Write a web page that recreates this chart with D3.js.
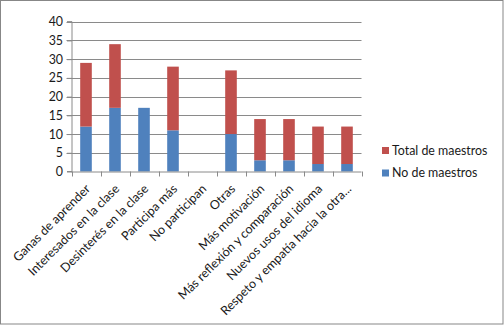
<!DOCTYPE html>
<html>
<head>
<meta charset="utf-8">
<script src="https://cdn.jsdelivr.net/npm/d3@7"></script>
<style>
  html, body { margin: 0; padding: 0; background: #fff; }
  svg { display: block; }
  text { font-family: Lato, "Open Sans", sans-serif; fill: #1a1a1a; }
</style>
</head>
<body>
<svg id="chart" width="504" height="325"></svg>
<script>
const categories = ["Ganas de aprender", "Interesados en la clase", "Desinterés en la clase", "Participa más", "No participan", "Otras", "Más motivación", "Más reflexión y comparación", "Nuevos usos del idioma", "Respeto y empatía hacia la otra..."];
const noMaestros = [12, 17, 17, 11, 0, 10, 3, 3, 2, 2];
const totalMaestros = [17, 17, 0, 17, 0, 17, 11, 11, 10, 10];
const seriesNames = ["No de maestros", "Total de maestros"];
const seriesColors = ["#4F81BD", "#C0504D"];
const yTicks = [0, 5, 10, 15, 20, 25, 30, 35, 40];

const svg = d3.select("#chart");
const W = 504, H = 325;

// outer border
svg.append("rect").attr("x", 0.5).attr("y", 0.5).attr("width", W - 1.5).attr("height", H - 1.5)
  .attr("fill", "#fff").attr("stroke", "#878787").attr("stroke-width", 1);

const x0 = 71.5, x1 = 361.5, yTop = 21.7, yBot = 171.5;
const x = d3.scaleBand().domain(categories).range([x0, x1]).padding(0);
const y = d3.scaleLinear().domain([0, 40]).range([yBot, yTop]);

const gridColor = "#8a8a8a";

// gridlines
svg.append("g").selectAll("line").data(yTicks.filter(d => d > 0)).join("line")
  .attr("x1", x0 - 5).attr("x2", x1)
  .attr("y1", d => Math.round(y(d)) + 0.5).attr("y2", d => Math.round(y(d)) + 0.5)
  .attr("stroke", gridColor).attr("stroke-width", 1);

// stacked data
const data = categories.map((c, i) => ({ cat: c, a: noMaestros[i], b: totalMaestros[i] }));
const stack = d3.stack().keys(["a", "b"])(data);

const barW = x.bandwidth() / 2.5;
svg.append("g").selectAll("g").data(stack).join("g")
  .attr("fill", (d, i) => seriesColors[i])
  .selectAll("rect").data(d => d).join("rect")
  .attr("x", d => x(d.data.cat) + (x.bandwidth() - barW) / 2)
  .attr("width", barW)
  .attr("y", d => y(d[1]))
  .attr("height", d => Math.max(0, y(d[0]) - y(d[1])));

// y axis
const yAxis = d3.axisLeft(y).tickValues(yTicks).tickSize(5).tickPadding(4);
const gy = svg.append("g").attr("transform", `translate(${x0 + 0.5},0)`).call(yAxis);
gy.select(".domain").attr("stroke", gridColor).attr("d", `M-5,${yTop}H0V${yBot}H-5`);
gy.selectAll(".tick line").attr("stroke", gridColor);
gy.selectAll(".tick text").attr("font-size", 12.4).style("font-family", "Lato, sans-serif").attr("fill", "#1a1a1a");

// x axis line and ticks at band edges
const edges = categories.map(c => x(c)).concat([x1]);
const gx = svg.append("g");
gx.append("line").attr("x1", x0).attr("x2", x1).attr("y1", yBot + 0.5).attr("y2", yBot + 0.5).attr("stroke", gridColor);
gx.selectAll("line.t").data(edges).join("line").attr("class", "t")
  .attr("x1", d => Math.round(d) + 0.5).attr("x2", d => Math.round(d) + 0.5)
  .attr("y1", yBot).attr("y2", yBot + 5).attr("stroke", gridColor);

// category labels
svg.append("g").selectAll("text").data(categories).join("text")
  .attr("transform", d => `translate(${x(d) + x.bandwidth() / 2 + 2},${yBot + 15}) rotate(-45)`)
  .attr("text-anchor", "end")
  .attr("dy", "0.35em")
  .attr("font-size", 12.5)
  .text(d => d);

// legend
const legendItems = [{ name: seriesNames[1], color: seriesColors[1] }, { name: seriesNames[0], color: seriesColors[0] }];
const lg = svg.append("g").attr("transform", "translate(382,147)");
const li = lg.selectAll("g").data(legendItems).join("g").attr("transform", (d, i) => `translate(0,${i * 22.5})`);
li.append("rect").attr("width", 7).attr("height", 7).attr("fill", d => d.color);
li.append("text").attr("x", 10).attr("y", 7.5).attr("font-size", 12.4).text(d => d.name);
</script>
</body>
</html>
